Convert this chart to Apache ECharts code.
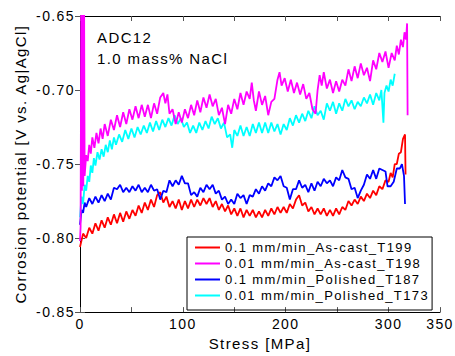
<!DOCTYPE html>
<html>
<head>
<meta charset="utf-8">
<script src="https://cdn.jsdelivr.net/npm/echarts@6/dist/echarts.min.js"></script>
<style>
  body { margin: 0; background: #fff; }
  #chart { width: 455px; height: 356px; }
  #chart text { letter-spacing: 1.4px; }
</style>
</head>
<body>
<div id="chart"></div>
<script>
// stress [MPa], potential [V vs. Ag|AgCl]
var red = [[0,-0.806],[3,-0.797],[6,-0.800],[9,-0.793],[12,-0.797],[15,-0.790],[18,-0.795],[21,-0.788],[24,-0.793],[27,-0.786],[30,-0.791],[33,-0.784],[36,-0.790],[39,-0.783],[42,-0.789],[45,-0.782],[48,-0.787],[51,-0.781],[54,-0.785],[57,-0.778],[60,-0.783],[63,-0.776],[66,-0.781],[69,-0.774],[72,-0.779],[75,-0.771],[78,-0.769],[81,-0.776],[84,-0.772],[87,-0.779],[90,-0.775],[93,-0.780],[96,-0.774],[99,-0.781],[102,-0.775],[105,-0.780],[108,-0.774],[111,-0.779],[114,-0.774],[117,-0.778],[120,-0.773],[123,-0.777],[126,-0.773],[129,-0.779],[132,-0.775],[135,-0.781],[138,-0.777],[141,-0.782],[144,-0.778],[147,-0.784],[150,-0.780],[153,-0.785],[156,-0.780],[159,-0.786],[162,-0.781],[165,-0.785],[168,-0.781],[171,-0.786],[174,-0.782],[177,-0.786],[180,-0.781],[183,-0.785],[186,-0.780],[189,-0.784],[192,-0.779],[195,-0.783],[198,-0.779],[201,-0.783],[204,-0.777],[207,-0.780],[210,-0.774],[213,-0.771],[216,-0.778],[219,-0.776],[222,-0.782],[225,-0.779],[228,-0.784],[231,-0.780],[234,-0.784],[237,-0.780],[240,-0.785],[243,-0.781],[246,-0.785],[249,-0.780],[252,-0.784],[255,-0.779],[258,-0.781],[261,-0.775],[264,-0.778],[267,-0.774],[270,-0.777],[273,-0.772],[276,-0.775],[279,-0.770],[282,-0.773],[285,-0.768],[288,-0.771],[291,-0.765],[294,-0.767],[297,-0.761],[300,-0.762],[302,-0.756],[304,-0.759],[306,-0.750],[308,-0.750],[310,-0.743],[312,-0.742],[314,-0.733],[316,-0.730],[316.5,-0.757]];

var magenta = [[0,-0.802],[0.6,-0.792],[1.3,-0.62],[1.9,-0.768],[2.6,-0.62],[3.2,-0.765],[3.9,-0.62],[4.5,-0.758],[6,-0.744],[7.5,-0.748],[9,-0.737],[10.5,-0.743],[12,-0.732],[14,-0.739],[16,-0.729],[18,-0.736],[20,-0.726],[22,-0.733],[24,-0.723],[27,-0.731],[30,-0.720],[33,-0.727],[36,-0.717],[39,-0.725],[42,-0.715],[45,-0.723],[48,-0.713],[51,-0.720],[54,-0.711],[57,-0.719],[60,-0.710],[63,-0.718],[66,-0.710],[69,-0.719],[72,-0.709],[75,-0.716],[78,-0.705],[81,-0.702],[83,-0.709],[85,-0.703],[87,-0.716],[90,-0.713],[93,-0.723],[96,-0.715],[99,-0.722],[102,-0.713],[105,-0.719],[108,-0.710],[111,-0.717],[114,-0.707],[117,-0.715],[120,-0.705],[123,-0.712],[126,-0.703],[129,-0.711],[132,-0.706],[135,-0.717],[138,-0.712],[141,-0.723],[144,-0.710],[147,-0.716],[150,-0.706],[153,-0.713],[156,-0.702],[159,-0.710],[162,-0.701],[165,-0.706],[167,-0.695],[169,-0.707],[171,-0.714],[174,-0.701],[177,-0.710],[180,-0.704],[183,-0.717],[186,-0.708],[189,-0.706],[192,-0.693],[194,-0.688],[196,-0.697],[199,-0.692],[202,-0.701],[205,-0.693],[208,-0.702],[211,-0.695],[214,-0.703],[217,-0.696],[220,-0.706],[223,-0.702],[226,-0.713],[229,-0.716],[231,-0.700],[233,-0.690],[235,-0.697],[237,-0.688],[240,-0.699],[243,-0.693],[246,-0.702],[249,-0.694],[252,-0.701],[255,-0.693],[258,-0.697],[261,-0.686],[264,-0.694],[267,-0.684],[270,-0.692],[273,-0.682],[276,-0.690],[279,-0.685],[282,-0.694],[285,-0.680],[288,-0.686],[291,-0.675],[294,-0.681],[297,-0.674],[300,-0.685],[303,-0.675],[306,-0.680],[308,-0.670],[310,-0.676],[312,-0.666],[314,-0.671],[315.5,-0.661],[317,-0.666],[318,-0.655],[318.5,-0.717]];

var blue = [[0,-0.791],[1.5,-0.781],[3,-0.783],[4.5,-0.776],[6,-0.779],[9,-0.773],[12,-0.777],[15,-0.772],[18,-0.776],[21,-0.771],[24,-0.775],[27,-0.770],[30,-0.774],[33,-0.766],[36,-0.767],[39,-0.764],[42,-0.769],[45,-0.766],[48,-0.769],[51,-0.765],[54,-0.768],[57,-0.764],[60,-0.769],[63,-0.766],[66,-0.769],[69,-0.764],[72,-0.768],[75,-0.767],[78,-0.774],[81,-0.768],[84,-0.769],[87,-0.761],[90,-0.765],[93,-0.761],[96,-0.764],[99,-0.758],[102,-0.763],[105,-0.763],[108,-0.771],[111,-0.769],[114,-0.772],[117,-0.766],[120,-0.769],[123,-0.764],[126,-0.767],[129,-0.764],[132,-0.770],[135,-0.768],[138,-0.774],[141,-0.772],[144,-0.777],[147,-0.774],[150,-0.777],[153,-0.770],[156,-0.773],[159,-0.771],[162,-0.777],[165,-0.771],[168,-0.772],[171,-0.767],[174,-0.770],[177,-0.765],[180,-0.768],[183,-0.763],[186,-0.765],[189,-0.759],[192,-0.761],[195,-0.758],[198,-0.765],[201,-0.766],[204,-0.774],[207,-0.767],[210,-0.767],[213,-0.761],[216,-0.766],[219,-0.764],[222,-0.769],[225,-0.763],[228,-0.768],[231,-0.762],[234,-0.765],[237,-0.760],[240,-0.763],[243,-0.761],[246,-0.765],[249,-0.759],[252,-0.761],[255,-0.754],[258,-0.759],[261,-0.760],[264,-0.767],[267,-0.766],[270,-0.773],[273,-0.768],[276,-0.764],[279,-0.757],[282,-0.760],[285,-0.754],[288,-0.760],[291,-0.753],[294,-0.754],[297,-0.755],[299,-0.765],[302,-0.765],[305,-0.762],[308,-0.753],[311,-0.753],[313,-0.750],[315,-0.758],[316,-0.777]];

var cyan = [[0,-0.786],[1.5,-0.772],[3,-0.777],[4.5,-0.764],[6,-0.768],[7.5,-0.758],[9,-0.762],[10.5,-0.751],[12,-0.756],[13.5,-0.746],[15,-0.751],[17,-0.742],[19,-0.747],[21,-0.740],[23,-0.745],[25,-0.737],[27,-0.742],[29,-0.734],[31,-0.740],[33,-0.732],[35,-0.737],[38,-0.730],[41,-0.735],[44,-0.727],[47,-0.733],[50,-0.726],[53,-0.732],[56,-0.725],[59,-0.730],[62,-0.724],[65,-0.729],[68,-0.722],[71,-0.728],[74,-0.721],[77,-0.727],[80,-0.720],[83,-0.725],[86,-0.719],[89,-0.724],[92,-0.717],[95,-0.723],[98,-0.719],[101,-0.725],[104,-0.722],[107,-0.729],[110,-0.724],[113,-0.729],[116,-0.722],[119,-0.727],[122,-0.721],[125,-0.726],[128,-0.718],[131,-0.723],[134,-0.719],[137,-0.726],[140,-0.722],[143,-0.732],[146,-0.730],[148,-0.739],[150,-0.727],[153,-0.731],[156,-0.724],[159,-0.731],[162,-0.725],[165,-0.731],[168,-0.723],[171,-0.729],[174,-0.722],[177,-0.729],[180,-0.722],[183,-0.729],[186,-0.722],[189,-0.728],[192,-0.723],[195,-0.730],[198,-0.723],[201,-0.727],[204,-0.719],[207,-0.724],[210,-0.717],[213,-0.722],[216,-0.716],[219,-0.721],[222,-0.714],[225,-0.719],[228,-0.711],[231,-0.717],[234,-0.714],[237,-0.720],[240,-0.709],[243,-0.714],[246,-0.708],[249,-0.716],[252,-0.709],[255,-0.714],[258,-0.706],[261,-0.711],[264,-0.707],[267,-0.713],[270,-0.708],[273,-0.711],[276,-0.705],[279,-0.709],[282,-0.703],[285,-0.710],[288,-0.702],[291,-0.707],[293,-0.700],[295,-0.722],[296,-0.702],[298,-0.697],[300,-0.701],[302,-0.693],[304,-0.697],[306,-0.689]];

var seriesNames = ['0.1 mm/min_As-cast_T199', '0.01 mm/min_As-cast_T198', '0.1 mm/min_Polished_T187', '0.01 mm/min_Polished_T173'];
var seriesColors = ['#ff0000', '#ff00ff', '#0000ff', '#00ffff'];
var seriesData = [red, magenta, blue, cyan];
var xLabelValues = [0, 100, 200, 300, 350];

var font = 'Arial';

var dom = document.getElementById('chart');
var myChart = echarts.init(dom, null, { renderer: 'svg' });

var tickStyle = { show: true, inside: true, length: 5, lineStyle: { color: '#555', width: 1 } };

var option = {
    animation: false,
    backgroundColor: '#fff',
    grid: { left: 80, right: 15, top: 16, bottom: 38 },
    legend: {
        orient: 'vertical',
        left: 187,
        top: 237,
        padding: [4, 38, 8, 8],
        itemGap: 3,
        itemWidth: 25,
        itemHeight: 14,
        borderColor: '#000',
        borderWidth: 1,
        icon: 'path://M0,6L25,6L25,8L0,8Z',
        textStyle: { fontFamily: font, fontSize: 13, color: '#000' },
        data: seriesNames
    },
    graphic: [
        { type: 'text', left: 97, top: 30, style: { text: 'ADC12', font: '15px ' + font, fill: '#000' } },
        { type: 'text', left: 97, top: 51, style: { text: '1.0 mass% NaCl', font: '15px ' + font, fill: '#000' } }
    ],
    xAxis: [{
        type: 'value',
        min: 0,
        max: 350,
        interval: 50,
        name: 'Stress [MPa]',
        nameLocation: 'middle',
        nameGap: 21,
        nameTextStyle: { fontFamily: font, fontSize: 15, color: '#000' },
        axisLine: { show: true, lineStyle: { color: '#000', width: 1 } },
        axisTick: tickStyle,
        splitLine: { show: false },
        axisLabel: {
            fontFamily: font, fontSize: 14, color: '#000', margin: 5,
            formatter: function (v) { return xLabelValues.indexOf(v) >= 0 ? String(v) : ''; }
        }
    }, {
        type: 'value', position: 'top', min: 0, max: 350, interval: 50,
        axisLine: { show: true, lineStyle: { color: '#000', width: 1 } },
        axisTick: tickStyle, axisLabel: { show: false }, splitLine: { show: false }
    }],
    yAxis: [{
        type: 'value',
        min: -0.85,
        max: -0.65,
        interval: 0.05,
        name: 'Corrosion potential [V vs. Ag|AgCl]',
        nameLocation: 'middle',
        nameGap: 52,
        nameTextStyle: { fontFamily: font, fontSize: 15, color: '#000' },
        axisLine: { show: true, lineStyle: { color: '#000', width: 1 } },
        axisTick: tickStyle,
        splitLine: { show: false },
        axisLabel: {
            fontFamily: font, fontSize: 14, color: '#000', margin: 5,
            formatter: function (v) { return v.toFixed(2); }
        }
    }, {
        type: 'value', position: 'right', min: -0.85, max: -0.65, interval: 0.05,
        axisLine: { show: true, lineStyle: { color: '#000', width: 1 } },
        axisTick: tickStyle, axisLabel: { show: false }, splitLine: { show: false }
    }],
    series: seriesNames.map(function (name, i) {
        return {
            name: name,
            type: 'line',
            data: seriesData[i],
            symbol: 'none',
            clip: true,
            color: seriesColors[i],
            lineStyle: { color: seriesColors[i], width: 1.8 },
            z: i === 1 ? 3 : 2
        };
    })
};

myChart.setOption(option);

window.addEventListener('resize', myChart.resize);
</script>
</body>
</html>
